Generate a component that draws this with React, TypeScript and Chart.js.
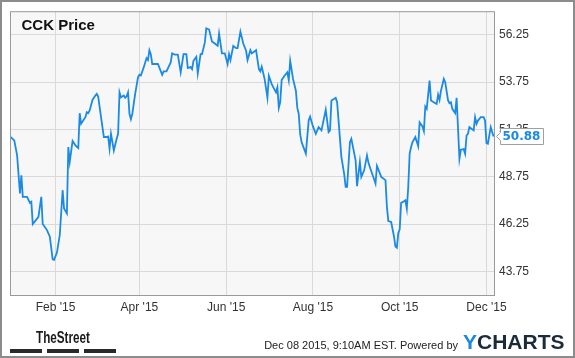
import React, { useEffect, useRef } from "react";
import { Chart, registerables } from "chart.js";

Chart.register(...registerables);

// Days counted from Dec 31, 2014 (trading sessions)
const tradingDays = [
  0, 3, 5, 7, 8, 9, 12, 14, 15, 16, 20, 22, 23, 26, 28, 30, 31, 33, 35, 37,
  38, 40, 41, 42, 44, 46, 48, 49, 50, 53, 54, 55, 56, 58, 60, 61, 62, 64, 66, 68,
  69, 70, 71, 73, 75, 76, 77, 78, 80, 81, 82, 83, 84, 85, 86, 88, 90, 91, 92, 94,
  96, 97, 98, 99, 100, 104, 107, 108, 110, 113, 114, 116, 118, 120, 122, 124, 125, 127, 128, 129,
  131, 132, 134, 135, 137, 138, 140, 142, 144, 146, 147, 149, 151, 153, 154, 155, 157, 159, 160, 162,
  164, 166, 167, 169, 170, 173, 175, 176, 177, 179, 181, 182, 184, 187, 188, 189, 190, 191, 193, 195,
  196, 197, 199, 201, 202, 203, 204, 205, 208, 210, 211, 213, 215, 217, 219, 222, 224, 225, 226, 228,
  229, 230, 231, 233, 235, 236, 237, 239, 240, 243, 244, 246, 247, 249, 251, 252, 253, 255, 257, 258,
  261, 264, 265, 266, 268, 270, 271, 272, 273, 274, 275, 277, 278, 279, 280, 281, 282, 283, 285, 287,
  288, 290, 291, 292, 293, 295, 296, 299, 300, 301, 302, 303, 305, 306, 308, 309, 310, 311, 313, 314,
  316, 317, 319, 320, 321, 322, 323, 326, 327, 328, 329, 331, 333, 334, 335, 336, 338, 339, 340,
];

const closePrices = [
  50.88, 50.67, 49.88, 47.87, 48.83, 47.69, 47.69, 47.37, 47.43, 46.25, 46.63, 47.69, 46.25, 45.93, 45.58, 44.39, 44.36, 44.74, 45.67, 48.04,
  47.07, 46.81, 50.32, 49.53, 50.64, 50.41, 50.27, 52.11, 51.55, 51.9, 52.16, 52.11, 52.25, 52.81, 53.04, 53.13, 52.99, 51.9, 50.85, 50.85,
  50.88, 50.23, 51.02, 50.14, 50.76, 51.02, 53.21, 52.95, 53.04, 52.92, 53.0, 53.21, 52.08, 51.79, 52.08, 53.13, 54.0, 54.14, 54.1, 54.53,
  55.02, 54.92, 55.44, 55.23, 54.71, 54.71, 54.14, 54.32, 54.32, 54.79, 55.27, 55.2, 55.2, 54.27, 55.23, 55.23, 54.5, 54.55, 54.44, 54.88,
  55.09, 54.21, 55.23, 55.23, 55.85, 56.6, 56.53, 55.9, 55.79, 55.67, 56.32, 55.27, 55.27, 54.71, 55.23, 54.92, 55.67, 55.55, 55.55, 56.42,
  55.79, 55.41, 54.92, 55.44, 55.27, 55.44, 54.44, 54.32, 54.57, 53.92, 52.92, 54.09, 53.65, 53.21, 53.48, 52.39, 52.69, 53.86, 54.09, 54.27,
  53.86, 54.88, 53.92, 53.3, 52.39, 52.08, 51.02, 50.58, 49.97, 51.72, 51.93, 51.41, 51.02, 51.37, 51.2, 52.29, 51.11, 51.2, 52.78, 52.87,
  52.92, 52.69, 51.72, 49.79, 48.88, 48.21, 48.21, 50.58, 50.76, 49.62, 48.25, 49.53, 48.74, 49.09, 49.88, 49.5, 49.27, 48.83, 48.39, 49.32,
  48.74, 48.57, 47.16, 46.41, 46.36, 45.58, 45.06, 45.0, 45.76, 45.97, 47.37, 47.46, 47.51, 47.06, 48.21, 49.97, 50.32, 50.58, 50.85, 50.36,
  51.62, 51.41, 51.16, 52.46, 52.34, 53.83, 52.78, 52.64, 52.6, 53.09, 52.81, 53.3, 53.92, 53.74, 52.78, 52.64, 52.69, 52.34, 52.11, 52.92,
  49.7, 50.18, 50.21, 49.97, 50.93, 51.02, 51.37, 51.2, 51.9, 51.55, 51.72, 51.9, 51.9, 51.72, 50.53, 50.5, 51.37, 51.11, 50.88,
];

const yTickValues = [43.75, 46.25, 48.75, 51.25, 53.75, 56.25];
const xTickDays = [32, 91, 152, 213, 274, 335];
const xTickLabels = ["Feb '15", "Apr '15", "Jun '15", "Aug '15", "Oct '15", "Dec '15"];
const seriesName = "CCK Price";
const footerStamp = "Dec 08 2015, 9:10AM EST. Powered by";
const brandLeft = "TheStreet";
const brandRightA = "Y";
const brandRightB = "CHARTS";

const BLUE = "#1a8ae6";
const SANS = "'Liberation Sans', Arial, sans-serif";

export default function App() {
  const ref = useRef<HTMLCanvasElement>(null);

  useEffect(() => {
    document.body.style.margin = "0";
    const canvas = ref.current!;
    const lastValue = closePrices[closePrices.length - 1];

    const decor = {
      id: "decor",
      beforeDraw(chart: any) {
        const { ctx, chartArea: a } = chart;
        ctx.save();
        ctx.fillStyle = "#ffffff";
        ctx.fillRect(0, 0, chart.width, chart.height);
        ctx.fillStyle = "#f7f7f7";
        ctx.fillRect(a.left, a.top, a.right - a.left, a.bottom - a.top);
        ctx.restore();
      },
      afterDraw(chart: any) {
        const { ctx, chartArea: a } = chart;
        const ys = chart.scales.y;
        ctx.save();
        // plot border
        ctx.strokeStyle = "#9a9a9a";
        ctx.lineWidth = 1;
        ctx.strokeRect(a.left + 0.5, a.top + 0.5, a.right - a.left - 1, a.bottom - a.top);

        // title legend
        ctx.fillStyle = "#111111";
        ctx.font = `bold 15px ${SANS}`;
        ctx.textBaseline = "alphabetic";
        ctx.textAlign = "left";
        ctx.fillText(seriesName, 21.5, 29.5);

        // last value flag
        const ly = Math.round(ys.getPixelForValue(lastValue)) + 0.5;
        const x0 = a.right + 1.5;
        const bx = a.right + 5.5;
        const bw = 43;
        ctx.beginPath();
        ctx.moveTo(x0, ly);
        ctx.lineTo(bx, ly - 4);
        ctx.lineTo(bx, ly - 8);
        ctx.lineTo(bx + bw, ly - 8);
        ctx.lineTo(bx + bw, ly + 8);
        ctx.lineTo(bx, ly + 8);
        ctx.lineTo(bx, ly + 4);
        ctx.closePath();
        ctx.fillStyle = "#ffffff";
        ctx.fill();
        ctx.strokeStyle = "#a0a0a0";
        ctx.stroke();
        ctx.fillStyle = BLUE;
        ctx.font = "bold 12px 'DejaVu Sans', Verdana, sans-serif";
        ctx.textBaseline = "middle";
        ctx.fillText(lastValue.toFixed(2), bx + 2, ly + 0.5);

        // outer frame
        ctx.strokeStyle = "#8c8c8c";
        ctx.lineWidth = 2;
        ctx.strokeRect(1, 1, chart.width - 2, chart.height - 2);

        // footer left brand
        ctx.textBaseline = "alphabetic";
        ctx.fillStyle = "#1a1a1a";
        ctx.font = `bold 17px ${SANS}`;
        const tw = ctx.measureText(brandLeft).width;
        ctx.save();
        ctx.translate(36, 343);
        ctx.scale(54 / tw, 1);
        ctx.fillText(brandLeft, 0, 0);
        ctx.restore();
        ctx.fillStyle = "#2a2a2a";
        ctx.fillRect(10, 349, 32, 4);
        ctx.fillRect(47, 349, 32, 4);
        ctx.fillRect(84, 349, 32, 4);

        // footer stamp
        ctx.fillStyle = "#222222";
        ctx.font = `11px ${SANS}`;
        ctx.textAlign = "right";
        ctx.fillText(footerStamp, 458, 349);
        ctx.textAlign = "left";

        // ycharts brand
        ctx.font = `bold 21px ${SANS}`;
        ctx.fillStyle = "#1b87e0";
        ctx.fillText(brandRightA, 463, 349);
        const yw = ctx.measureText(brandRightA).width;
        ctx.fillStyle = "#1c2b3a";
        ctx.fillText(brandRightB, 463 + yw, 349);
        ctx.restore();
      },
    };

    const chart = new Chart(canvas, {
      type: "line",
      data: {
        datasets: [
          {
            label: seriesName,
            data: tradingDays.map((d, i) => ({ x: d, y: closePrices[i] })),
            borderColor: BLUE,
            borderWidth: 1.8,
            pointRadius: 0,
            tension: 0,
            fill: false,
          },
        ],
      },
      options: {
        animation: false,
        responsive: false,
        maintainAspectRatio: false,
        devicePixelRatio: 1,
        layout: { padding: { left: 10, top: 10, right: 0, bottom: 0 } },
        plugins: {
          legend: { display: false },
          tooltip: { enabled: false },
        },
        scales: {
          x: {
            type: "linear",
            min: 0,
            max: 341,
            afterBuildTicks: (s: any) => {
              s.ticks = xTickDays.map((v) => ({ value: v }));
            },
            afterFit: (s: any) => {
              s.height = 63;
            },
            ticks: {
              autoSkip: false,
              maxRotation: 0,
              padding: 5,
              color: "#333333",
              font: { family: SANS, size: 12 },
              callback: (v: any) => {
                const i = xTickDays.indexOf(Number(v));
                return i >= 0 ? xTickLabels[i] : "";
              },
            },
            grid: { color: "#d9d9d9", drawTicks: false },
            border: { display: false },
          },
          y: {
            type: "linear",
            position: "right",
            min: 42.5,
            max: 57.5,
            afterBuildTicks: (s: any) => {
              s.ticks = yTickValues.map((v) => ({ value: v }));
            },
            afterFit: (s: any) => {
              s.width = 80;
            },
            ticks: {
              padding: 4,
              color: "#333333",
              font: { family: SANS, size: 12 },
              callback: (v: any) => Number(v).toFixed(2),
            },
            grid: { color: "#d9d9d9", drawTicks: false },
            border: { display: false },
          },
        },
      },
      plugins: [decor],
    });

    return () => chart.destroy();
  }, []);

  return (
    <canvas
      ref={ref}
      width={575}
      height={358}
      style={{ display: "block", width: 575, height: 358 }}
    />
  );
}
